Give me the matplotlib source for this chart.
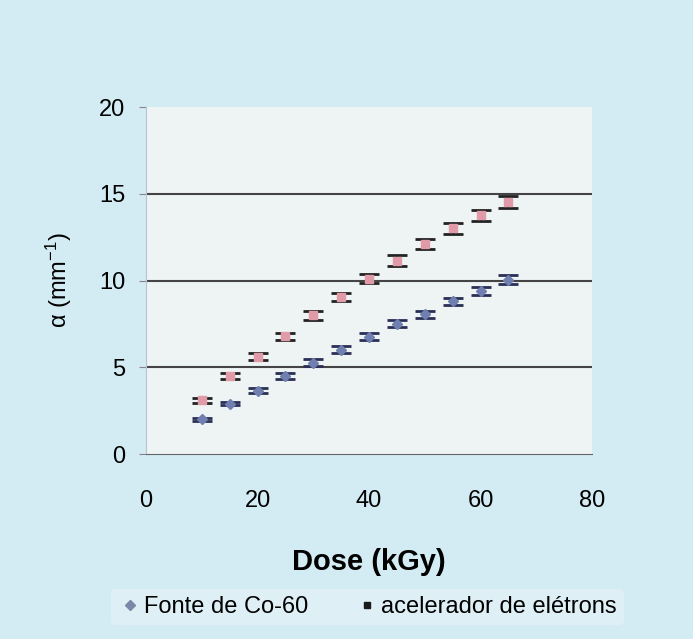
import matplotlib.pyplot as plt
from matplotlib.lines import Line2D

plt.rcParams["font.family"] = ["Liberation Sans", "DejaVu Sans"]
plt.rcParams["mathtext.fontset"] = "custom"
plt.rcParams["mathtext.rm"] = "Liberation Sans"
plt.rcParams["mathtext.it"] = "Liberation Sans"

# dados
dose = [10, 15, 20, 25, 30, 35, 40, 45, 50, 55, 60, 65]
alfa_co60 = [2.0, 2.9, 3.65, 4.5, 5.25, 6.0, 6.75, 7.5, 8.05, 8.8, 9.4, 10.05]
alfa_acel = [3.1, 4.5, 5.6, 6.8, 8.0, 9.05, 10.1, 11.15, 12.1, 13.0, 13.75, 14.55]
erro_co60 = [0.1, 0.1, 0.15, 0.15, 0.2, 0.2, 0.2, 0.2, 0.2, 0.2, 0.25, 0.25]
erro_acel = [0.15, 0.15, 0.2, 0.2, 0.25, 0.25, 0.25, 0.3, 0.3, 0.3, 0.3, 0.35]
linhas_grade = [5, 10, 15]

fig = plt.figure(figsize=(6.93, 6.39), dpi=100, facecolor="#d3ebf3")
ax = fig.add_axes([0.2107, 0.2895, 0.6436, 0.543])
ax.set_facecolor("#eef3f4")

for g in linhas_grade:
    ax.axhline(g, color="#444444", linewidth=1.5, zorder=1)

ax.errorbar(dose, alfa_acel, yerr=erro_acel, fmt="s", color="#e09aa8", ms=6,
            ecolor="#222222", elinewidth=1.2, capsize=7, capthick=2, zorder=3)
ax.errorbar(dose, alfa_co60, yerr=erro_co60, fmt="D", color="#6f7fb0", ms=5,
            ecolor="#2a2f55", elinewidth=1.2, capsize=7, capthick=2, zorder=3)

ax.set_xlim(0, 80)
ax.set_ylim(0, 20)
ax.set_xticks([0, 20, 40, 60, 80])
ax.set_yticks([0, 5, 10, 15, 20])

for s in ["top", "right"]:
    ax.spines[s].set_visible(False)
ax.spines["left"].set_color("#b8c4cc")
ax.spines["bottom"].set_color("#666666")
ax.tick_params(axis="both", labelsize=17, color="#888888", length=5)
ax.tick_params(axis="y", pad=10)
ax.tick_params(axis="x", length=0, pad=26)

ax.set_xlabel("Dose (kGy)", fontsize=21, fontweight="bold", labelpad=26)
ax.set_ylabel(r"$\alpha$ (mm$^{-1}$)", fontsize=17, labelpad=18)

handles = [Line2D([], [], marker="D", color="#7d87a8", ls="", ms=5),
           Line2D([], [], marker="s", color="#1a1a1a", ls="", ms=5)]
leg = fig.legend(handles, ["Fonte de Co-60", "acelerador de elétrons"],
                 loc="center", bbox_to_anchor=(0.53, 0.05), ncol=2,
                 fontsize=17, frameon=True, handletextpad=0.1, columnspacing=2.0,
                 handlelength=1.0, borderpad=0.3)
leg.get_frame().set_facecolor("#e2f1f6")
leg.get_frame().set_edgecolor("none")

plt.savefig("out.png", dpi=100, facecolor=fig.get_facecolor())
